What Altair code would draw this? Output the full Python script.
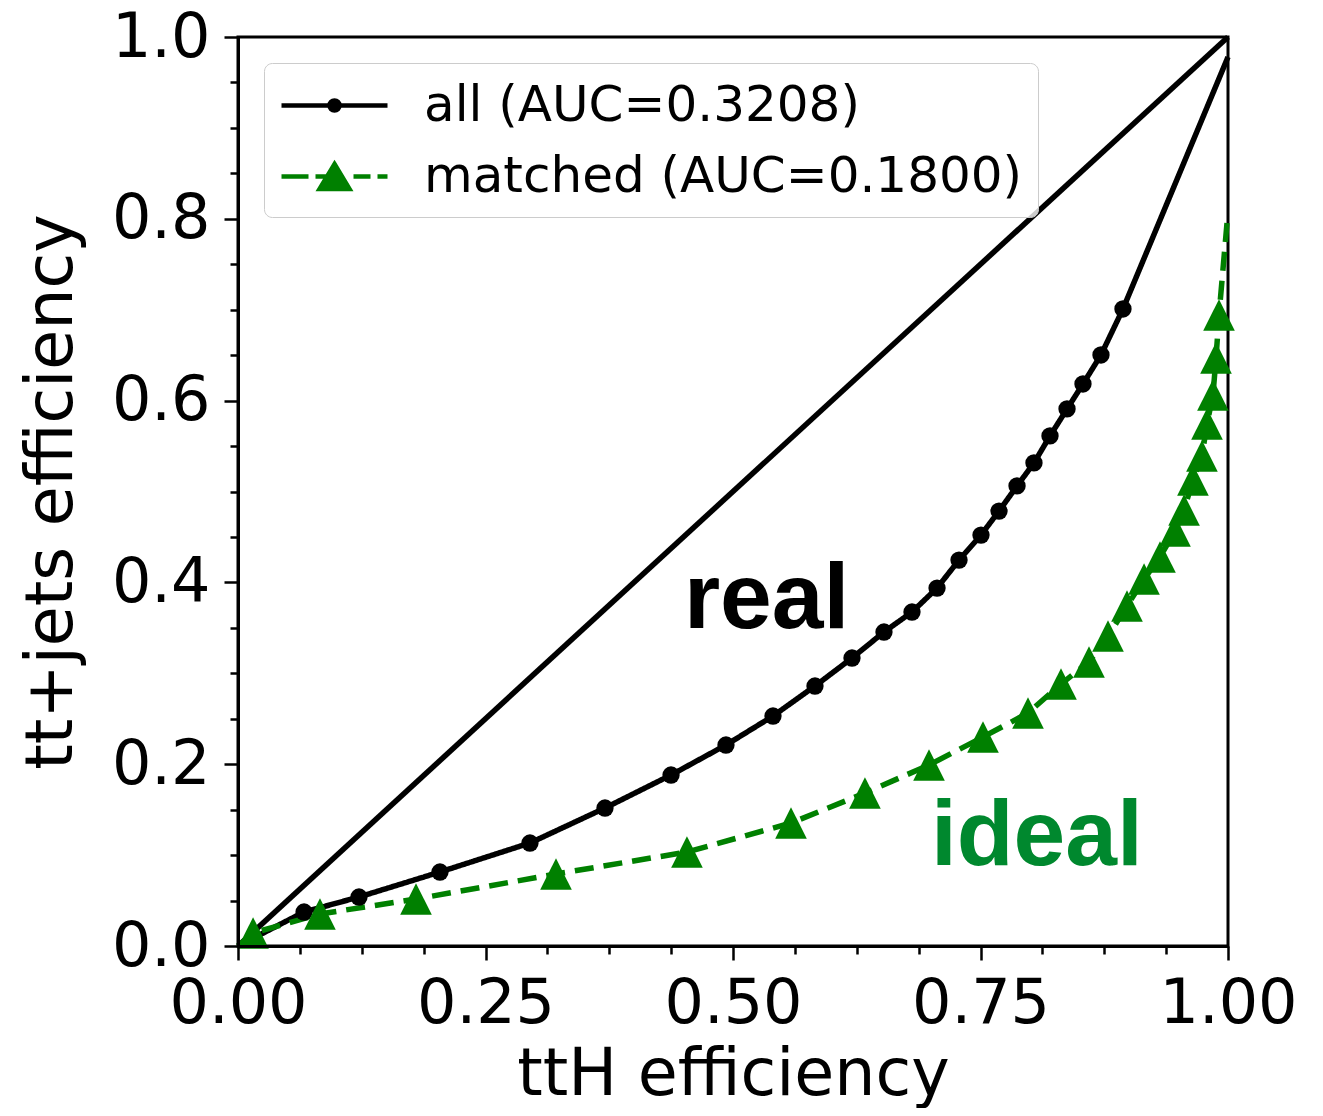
import altair as alt
import pandas as pd

# ---------------- data ----------------
series_names = ["all", "matched"]
series_labels = ["all (AUC=0.3208)", "matched (AUC=0.1800)"]
series_colors = ["black", "green"]

all_x = [0.0, 0.0667, 0.1222, 0.2040, 0.2949, 0.3707, 0.4374, 0.4929, 0.5404, 0.5828,
         0.6202, 0.6525, 0.6808, 0.7061, 0.7283, 0.7505, 0.7687, 0.7869, 0.8040, 0.8202,
         0.8374, 0.8535, 0.8717, 0.8939, 1.0]
all_y = [0.0, 0.0374, 0.0539, 0.0814, 0.1133, 0.1518, 0.1881, 0.2211, 0.2530, 0.2860,
         0.3168, 0.3454, 0.3674, 0.3938, 0.4246, 0.4521, 0.4785, 0.5061, 0.5314, 0.5611,
         0.5908, 0.6183, 0.6502, 0.7008, 0.978]
all_marker = [0] + [1] * 23 + [0]

matched_x = [0.0, 0.0152, 0.0828, 0.1798, 0.3212, 0.4535, 0.5586, 0.6333, 0.6980, 0.7525,
             0.7980, 0.8313, 0.8596, 0.8788, 0.8980, 0.9152, 0.9313, 0.9465, 0.9556, 0.9646,
             0.9737, 0.9788, 0.9848, 0.9879, 0.9909, 0.999]
matched_y = [0.0, 0.0143, 0.0352, 0.0517, 0.0792, 0.1034, 0.1353, 0.1683, 0.1991, 0.2299,
             0.2563, 0.2882, 0.3124, 0.3410, 0.3740, 0.4037, 0.4279, 0.4565, 0.4796, 0.5127,
             0.5391, 0.5743, 0.6062, 0.6469, 0.6942, 0.7954]
matched_marker = [0] + [1] * 24 + [0]

diag_x = [0.0, 1.0]
diag_y = [0.0, 1.0]

ann_text = ["real", "ideal"]
ann_x = [0.534, 0.807]
ann_y = [0.350, 0.089]
ann_colors = ["black", "#00882e"]

x_ticks = [0, 0.0625, 0.125, 0.1875, 0.25, 0.3125, 0.375, 0.4375, 0.5, 0.5625, 0.625,
           0.6875, 0.75, 0.8125, 0.875, 0.9375, 1]
y_ticks = [0, 0.05, 0.1, 0.15, 0.2, 0.25, 0.3, 0.35, 0.4, 0.45, 0.5, 0.55, 0.6, 0.65,
           0.7, 0.75, 0.8, 0.85, 0.9, 0.95, 1]

# marker / legend symbol shapes (custom svg paths)
triangle_path = "M0,-1L1,1L-1,1Z"
legend_paths = [
    "M-2.12,0H2.12M0.2,0A0.2,0.2,0,1,1,-0.2,0A0.2,0.2,0,1,1,0.2,0Z",
    "M-2.12,0H-1.04M-0.76,0H-0.12M0.76,0H1.44M1.72,0H2.12M0,-0.5L0.6,0.5L-0.6,0.5Z",
]

# ---------------- tables ----------------
rows = []
for i, (x, y, m) in enumerate(zip(all_x, all_y, all_marker)):
    rows.append({"series": series_names[0], "label": series_labels[0], "x": x, "y": y, "marker": m, "idx": i})
for i, (x, y, m) in enumerate(zip(matched_x, matched_y, matched_marker)):
    rows.append({"series": series_names[1], "label": series_labels[1], "x": x, "y": y, "marker": m, "idx": i})
df = pd.DataFrame(rows)
diag_df = pd.DataFrame({"x": diag_x, "y": diag_y})
ann_df = pd.DataFrame({"text": ann_text, "x": ann_x, "y": ann_y, "c": ann_colors})

x_test = "indexof([0,0.25,0.5,0.75,1], datum.value) >= 0"
y_test = "indexof([0,0.2,0.4,0.6,0.8,1], datum.value) >= 0"

xscale = alt.Scale(domain=[0, 1], nice=False, zero=False)
yscale = alt.Scale(domain=[0, 1], nice=False, zero=False)

x_axis = alt.Axis(
    values=x_ticks,
    labelExpr=f"{x_test} ? format(datum.value, '.2f') : ''",
    tickSize={"condition": {"test": x_test, "value": 14}, "value": 8},
    tickWidth=2.5, tickColor="black", domainColor="black", domainWidth=3,
    labelFont="DejaVu Sans", labelFontSize=62, labelColor="black",
    labelPadding=13, labelFlush=False, labelOverlap=False, labelBound=False,
    grid=False, title="ttH efficiency", titleFont="DejaVu Sans", titleFontSize=65,
    titleFontWeight="normal", titleColor="black", titlePadding=9, zindex=1,
)
y_axis = alt.Axis(
    values=y_ticks,
    labelExpr=f"{y_test} ? format(datum.value, '.1f') : ''",
    tickSize={"condition": {"test": y_test, "value": 14}, "value": 8},
    tickWidth=2.5, tickColor="black", domainColor="black", domainWidth=3,
    labelFont="DejaVu Sans", labelFontSize=62, labelColor="black",
    labelPadding=14, labelFlush=False, labelOverlap=False, labelBound=False,
    grid=False, title="tt+jets efficiency", titleFont="DejaVu Sans", titleFontSize=65,
    titleFontWeight="normal", titleColor="black", titlePadding=26, zindex=1,
)

X = alt.X("x:Q", scale=xscale, axis=x_axis)
Y = alt.Y("y:Q", scale=yscale, axis=y_axis)

color = alt.Color("series:N", scale=alt.Scale(domain=series_names, range=series_colors), legend=None)

diag = alt.Chart(diag_df).mark_line(color="black", strokeWidth=5.5).encode(x=X, y=Y)

lines = alt.Chart(df).mark_line(strokeWidth=5.5).encode(
    x=X, y=Y, color=color,
    strokeDash=alt.StrokeDash("series:N", scale=alt.Scale(domain=series_names, range=[[1, 0], [19, 10]]), legend=None),
    order="idx:Q",
)

dots = alt.Chart(df).transform_filter(
    (alt.datum.series == series_names[0]) & (alt.datum.marker == 1)
).mark_point(shape="circle", filled=True, size=300, opacity=1).encode(x=X, y=Y, color=color)

tris = alt.Chart(df).transform_filter(
    (alt.datum.series == series_names[1]) & (alt.datum.marker == 1)
).mark_point(shape=triangle_path, filled=True, size=1000, opacity=1).encode(x=X, y=Y, color=color)

ann_layers = []
for t, c in zip(ann_text, ann_colors):
    ann_layers.append(
        alt.Chart(ann_df).transform_filter(alt.datum.text == t).mark_text(
            font="Liberation Sans", fontWeight="bold", fontSize=93, align="center",
            baseline="alphabetic", color=c,
        ).encode(x=X, y=Y, text="text:N")
    )

# legend: line + marker symbols (matplotlib style)
leg = alt.Legend(
    title=None, orient="top-left", offset=26,
    fillColor="rgba(255,255,255,0.8)", strokeColor="#cccccc", cornerRadius=8, padding=15,
    symbolSize=2500, symbolStrokeWidth=4.5, symbolOffset=28, symbolOpacity=1,
    labelOffset=62, labelFont="DejaVu Sans", labelFontSize=50, labelColor="black",
    labelLimit=2000, rowPadding=18,
)
legend_layer = alt.Chart(df).transform_filter(alt.datum.idx == 0).mark_point(
    filled=True, opacity=0, strokeWidth=4.5
).encode(
    x=X, y=Y,
    fill=alt.Fill("label:N", scale=alt.Scale(domain=series_labels, range=series_colors), legend=leg),
    stroke=alt.Stroke("label:N", scale=alt.Scale(domain=series_labels, range=series_colors), legend=leg),
    shape=alt.Shape("label:N", scale=alt.Scale(domain=series_labels, range=legend_paths), legend=leg),
)

chart = alt.layer(diag, lines, dots, tris, *ann_layers, legend_layer).properties(
    width=990, height=909,
    padding={"left": 230, "top": 29, "right": 87, "bottom": 162},
    autosize=alt.AutoSizeParams(type="none"),
    background="white",
).configure_view(stroke="black", strokeWidth=3)

chart.save("out.html", embed_options={"renderer": "svg", "actions": False})
